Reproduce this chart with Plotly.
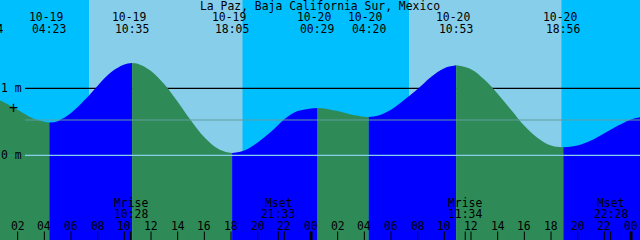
import plotly.graph_objects as go

# ---------------- data ----------------
title_text = "La Paz, Baja California Sur, Mexico"

# hours since 10-19 00:00 and tide heights (m)
tide_hours = [-0.35, 0.5, 1, 2, 3, 4, 4.383, 5, 6, 7, 8, 9, 10, 10.583, 11, 12, 13, 14,
              15, 16, 17, 17.6, 18.083, 19, 20, 21, 22, 23, 24, 24.483, 25, 26, 27, 28,
              28.333, 29, 30, 31, 32, 33, 34, 34.883, 36, 37, 38, 39, 40, 41, 42,
              42.933, 44, 45, 46, 47, 48, 49]
tide_heights = [0.85, 0.83, 0.79, 0.68, 0.565, 0.50, 0.49, 0.51, 0.63, 0.82, 1.04, 1.24,
                1.355, 1.378, 1.368, 1.26, 1.06, 0.80, 0.52, 0.27, 0.10, 0.05, 0.034,
                0.07, 0.19, 0.35, 0.54, 0.66, 0.70, 0.706, 0.70, 0.66, 0.61, 0.575,
                0.57, 0.59, 0.68, 0.83, 0.99, 1.17, 1.30, 1.343, 1.285, 1.13, 0.92,
                0.68, 0.44, 0.26, 0.145, 0.119, 0.145, 0.22, 0.33, 0.44, 0.535, 0.58]

extreme_hours = [-0.35, 4.383, 10.583, 18.083, 24.483, 28.333, 34.883, 42.933]
extreme_kind = ["H", "L", "H", "L", "H", "L", "H", "L"]
extreme_dates = ["10-18", "10-19", "10-19", "10-19", "10-20", "10-20", "10-20", "10-20"]
extreme_times = ["23:44", "04:23", "10:35", "18:05", "00:29", "04:20", "10:53", "18:56"]

sunrise_hours = [7.35, 31.35]
sunset_hours = [18.88, 42.80]

moon_hours = [10.467, 21.55, 35.567, 46.467]
moon_names = ["Mrise", "Mset", "Mrise", "Mset"]
moon_times = ["10:28", "21:33", "11:34", "22:28"]

tick_hours = [2, 4, 6, 8, 10, 12, 14, 16, 18, 20, 22, 24,
              26, 28, 30, 32, 34, 36, 38, 40, 42, 44, 46, 48]
tick_labels = ["02", "04", "06", "08", "10", "12", "14", "16", "18", "20", "22", "00",
               "02", "04", "06", "08", "10", "12", "14", "16", "18", "20", "22", "00"]
midnight_hours = [24, 48]

depth_levels = [1, 0]
depth_labels = ["1 m", "0 m"]
mean_level = 0.527

# ---------------- style ----------------
W, H = 640, 240
X_RANGE = [0.675, 48.675]
Y_RANGE = [-1.264, 2.318]
NIGHT = "#00BFFF"
DAY = "#87CEEB"
FLOOD = "#0000FF"
EBB = "#2E8B57"
FONT = dict(family="DejaVu Sans Mono", size=11.4, color="black")


def py(p):
    return 1 - p / H


def px(h):
    return (h - X_RANGE[0]) / (X_RANGE[1] - X_RANGE[0])


fig = go.Figure()
shapes = []
annotations = []

# sky
bounds = [-5]
for r, s in zip(sunrise_hours, sunset_hours):
    bounds += [r, s]
bounds.append(60)
for i in range(len(bounds) - 1):
    shapes.append(dict(type="rect", xref="x", yref="paper", x0=bounds[i], x1=bounds[i + 1],
                       y0=0, y1=1, fillcolor=NIGHT if i % 2 == 0 else DAY,
                       line=dict(width=0), layer="below"))

# water segments
for i, start in enumerate(extreme_hours):
    end = extreme_hours[i + 1] if i + 1 < len(extreme_hours) else 100
    color = FLOOD if extreme_kind[i] == "L" else EBB
    xs = [h for h in tide_hours if start <= h <= end]
    ys = [v for h, v in zip(tide_hours, tide_heights) if start <= h <= end]
    fig.add_trace(go.Scatter(x=xs, y=ys, mode="lines", fill="tozeroy", fillcolor=color,
                             line=dict(width=0, shape="spline", color=color),
                             hoverinfo="skip"))
    shapes.append(dict(type="rect", xref="x", yref="y", x0=start, x1=min(end, 60),
                       y0=-3, y1=0, fillcolor=color, line=dict(width=0), layer="below"))

# 1 m line (behind water)
shapes.append(dict(type="line", xref="paper", yref="y", x0=25 / W, x1=1,
                   y0=depth_levels[0], y1=depth_levels[0],
                   line=dict(color="black", width=1.2), layer="below"))
# 0 m and mean lines (on top)
shapes.append(dict(type="line", xref="paper", yref="y", x0=25 / W, x1=1,
                   y0=depth_levels[1], y1=depth_levels[1],
                   line=dict(color="#87CEEB", width=1.2), layer="above"))
shapes.append(dict(type="line", xref="paper", yref="y", x0=25 / W, x1=1,
                   y0=mean_level, y1=mean_level,
                   line=dict(color="#5F9EA0", width=1.2), layer="above"))

for lvl, lab in zip(depth_levels, depth_labels):
    annotations.append(dict(x=11.7 / W, xref="paper", y=lvl, yref="y", text=lab,
                            showarrow=False, font=FONT, xanchor="center", yanchor="middle"))
annotations.append(dict(x=13 / W, xref="paper", y=py(108), yref="paper", text="+",
                        showarrow=False, font=dict(family="DejaVu Sans Mono", size=15,
                                                   color="black"),
                        xanchor="center", yanchor="middle"))

# title
annotations.append(dict(x=319.5 / W, xref="paper", y=py(6), yref="paper", text=title_text,
                        showarrow=False, font=FONT, xanchor="center", yanchor="middle"))

# extreme labels
for h, d, t in zip(extreme_hours, extreme_dates, extreme_times):
    annotations.append(dict(x=px(h), xref="paper", y=py(17.5), yref="paper", text=d,
                            xshift=-3.5, showarrow=False, font=FONT,
                            xanchor="center", yanchor="middle"))
    annotations.append(dict(x=px(h), xref="paper", y=py(29), yref="paper", text=t,
                            showarrow=False, font=FONT, xanchor="center", yanchor="middle"))

# moon labels and ticks
for h, n, t in zip(moon_hours, moon_names, moon_times):
    annotations.append(dict(x=h, xref="x", y=py(202.5), yref="paper", text=n,
                            showarrow=False, font=FONT, xanchor="center", yanchor="middle"))
    annotations.append(dict(x=h, xref="x", y=py(213.5), yref="paper", text=t,
                            showarrow=False, font=FONT, xanchor="center", yanchor="middle"))
    shapes.append(dict(type="line", xref="x", yref="paper", x0=h, x1=h, y0=0, y1=8.5 / H,
                       line=dict(color="black", width=1), layer="above"))

# hour ticks
for h, lab in zip(tick_hours, tick_labels):
    annotations.append(dict(x=h, xref="x", y=py(226), yref="paper", text=lab,
                            showarrow=False, font=FONT, xanchor="center", yanchor="middle"))
    shapes.append(dict(type="line", xref="x", yref="paper", x0=h, x1=h, y0=0, y1=8.5 / H,
                       line=dict(color="black", width=3 if h in midnight_hours else 1),
                       layer="above"))

fig.update_layout(
    width=W, height=H, margin=dict(l=0, r=0, t=0, b=0),
    paper_bgcolor=NIGHT, plot_bgcolor=NIGHT, showlegend=False,
    xaxis=dict(range=X_RANGE, visible=False, fixedrange=True),
    yaxis=dict(range=Y_RANGE, visible=False, fixedrange=True),
    shapes=shapes, annotations=annotations,
)

fig.write_html("out.html", config={"displayModeBar": False})
